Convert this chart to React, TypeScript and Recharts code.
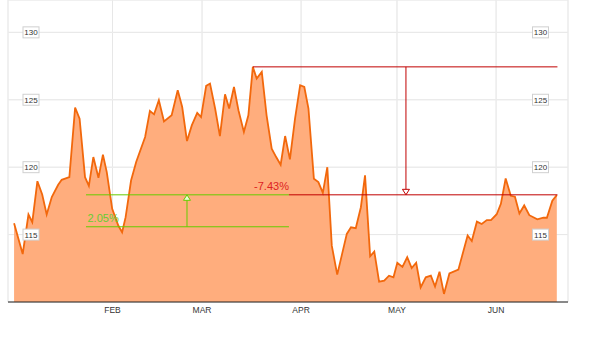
import React from 'react';
import { ComposedChart, Area, XAxis, YAxis, CartesianGrid, ReferenceLine } from 'recharts';

// day of year (0 = Jan 1)
const days = [
  0.2, 2.9, 4.7, 5.9, 7.5, 9.0, 10.4, 12.0, 14.0, 15.1,
  17.5, 19.3, 20.7, 22.4, 23.6, 25.0, 26.6, 28.0, 29.2, 30.9,
  32.8, 34.0, 35.1, 36.8, 38.4, 41.2, 42.7, 44.0, 45.5, 47.1,
  49.5, 51.4, 52.8, 54.3, 55.8, 57.5, 58.7, 60.3, 61.5, 63.1,
  64.6, 66.2, 67.5, 69.0, 70.4, 72.1, 73.5, 74.9, 76.1, 77.7,
  79.2, 80.8, 82.2, 83.6, 85.0, 86.5, 88.1, 89.7, 91.0, 92.3,
  94.0, 95.4, 96.8, 98.2, 99.6, 101.3, 102.7, 104.3, 105.6, 107.1,
  108.7, 110.0, 111.6, 112.9, 114.4, 116.0, 117.5, 118.9, 120.1, 121.7,
  123.2, 124.6, 126.0, 127.4, 129.0, 130.6, 131.9, 133.3, 134.7, 136.4,
  139.2, 142.1, 143.4, 145.0, 146.5, 148.1, 149.4, 151.2, 152.5, 154.0,
  155.6, 156.9, 158.3, 159.8, 161.4, 163.9, 165.8, 166.9, 168.6, 170.0,
];

const prices = [
  115.84, 113.56, 116.49, 115.92, 118.96, 117.97, 116.49, 117.78, 118.69, 119.06,
  119.26, 124.42, 123.6, 119.26, 118.62, 120.75, 119.21, 120.93, 119.63, 116.91,
  115.67, 115.17, 116.29, 119.01, 120.38, 122.24, 124.17, 123.92, 124.96, 123.4,
  123.85, 125.71, 124.46, 121.94, 123.1, 124.03, 123.72, 126.03, 126.2, 124.35,
  122.31, 125.41, 124.35, 125.95, 124.22, 122.61, 123.85, 127.44, 126.57, 127.07,
  123.85, 121.37, 120.75, 120.18, 122.31, 120.58, 123.6, 126.08, 125.95, 124.35,
  119.14, 118.89, 118.1, 120.0, 114.18, 112.03, 113.44, 115.05, 115.54, 115.47,
  117.03, 119.39, 113.39, 113.74, 111.51, 111.58, 111.95, 111.83, 112.91, 112.6,
  113.32, 112.52, 112.91, 111.08, 111.83, 111.95, 111.15, 112.24, 110.6, 112.12,
  112.4, 114.93, 114.52, 115.96, 115.79, 116.08, 116.08, 116.51, 117.28, 119.16,
  117.88, 117.81, 116.56, 117.16, 116.44, 116.13, 116.25, 116.25, 117.52, 117.93,
];

const monthTicks = [31, 59, 90, 120, 151];
const monthLabels = ['FEB', 'MAR', 'APR', 'MAY', 'JUN'];
const priceTicks = [115, 120, 125, 130];

// gain annotation
const gainBase = 115.58;
const gainTop = 117.95;
const gainStart = 22.7;
const gainEnd = 86.2;
const gainArrowDay = 54.3;
const gainText = '2.05%';

// drop annotation
const dropTop = 127.44;
const dropBottom = 117.95;
const dropStart = 74.9;
const dropEnd = 170.2;
const dropArrowDay = 122.8;
const dropText = '-7.43%';

const data = days.map((d, i) => ({ d, p: prices[i] }));

const FONT = 'Liberation Sans, Arial, sans-serif';

const makeTick = (side: 'left' | 'right') => (props: any) => {
  const { x, y, payload } = props;
  const cx = side === 'left' ? x + 23 : x - 27.5;
  return (
    <g>
      <rect x={cx - 8} y={y - 5.5} width={16} height={11} fill="#fff" stroke="#d0d0d0" strokeWidth={1} />
      <text x={cx} y={y + 3} textAnchor="middle" fontSize={8} fill="#333" fontFamily={FONT}>
        {payload.value}
      </text>
    </g>
  );
};

const makeArrow = (color: string, fill: string) => (props: any) => {
  const { x1, y1, x2, y2 } = props;
  const dir = y2 > y1 ? 1 : -1;
  const h = 5.5;
  const w = 3.5;
  return (
    <g>
      <line x1={x1} y1={y1} x2={x2} y2={y2} stroke={color} strokeWidth={1} />
      <polygon
        points={`${x2},${y2} ${x2 - w},${y2 - dir * h} ${x2 + w},${y2 - dir * h}`}
        fill={fill}
        stroke={color}
        strokeWidth={1}
      />
    </g>
  );
};

const gainLabel = (props: any) => {
  const vb = props.viewBox || {};
  return (
    <text x={vb.x + 1.5} y={vb.y - 4.5} fill="#66cc33" fontSize={11} fontFamily={FONT}>
      {gainText}
    </text>
  );
};

const dropLabel = (props: any) => {
  const vb = props.viewBox || {};
  return (
    <text x={vb.x} y={vb.y - 4.5} fill="#dd2222" fontSize={11} fontFamily={FONT} textAnchor="end">
      {dropText}
    </text>
  );
};

export default function App() {
  return (
    <div style={{ position: 'absolute', left: 0, top: 0 }}>
      <ComposedChart
        width={602}
        height={360}
        data={data}
        margin={{ top: 0, right: 32, bottom: 28, left: 6 }}
      >
        <CartesianGrid stroke="#dddddd" strokeWidth={1} />
        <XAxis
          dataKey="d"
          type="number"
          domain={[-1.7, 173.5]}
          allowDataOverflow
          ticks={monthTicks}
          tickFormatter={(v: number) => monthLabels[monthTicks.indexOf(v)]}
          axisLine={{ stroke: '#222', strokeWidth: 1.2 }}
          tickLine={false}
          tickSize={0}
          tickMargin={5}
          height={30}
          tick={{ fontSize: 8.5, fill: '#333', fontFamily: FONT }}
        />
        <Area
          type="linear"
          dataKey="p"
          stroke="#f2680c"
          strokeWidth={1.8}
          fill="#ffad7d"
          fillOpacity={1}
          isAnimationActive={false}
          dot={false}
          activeDot={false}
        />
        <CartesianGrid stroke="#ffffff" strokeOpacity={0.3} strokeWidth={1} fill="none" />
        <ReferenceLine
          segment={[{ x: gainStart, y: gainBase }, { x: gainEnd, y: gainBase }]}
          stroke="#66cc00"
          strokeWidth={1}
          label={gainLabel}
          ifOverflow="visible"
        />
        <ReferenceLine
          segment={[{ x: gainStart, y: gainTop }, { x: gainEnd, y: gainTop }]}
          stroke="#66cc00"
          strokeWidth={1}
          ifOverflow="visible"
        />
        <ReferenceLine
          segment={[{ x: gainArrowDay, y: gainBase }, { x: gainArrowDay, y: gainTop }]}
          shape={makeArrow('#66cc00', '#eaffd6')}
          ifOverflow="visible"
        />
        <ReferenceLine
          segment={[{ x: dropStart, y: dropTop }, { x: dropEnd, y: dropTop }]}
          stroke="#c00000"
          strokeWidth={1}
          ifOverflow="visible"
        />
        <ReferenceLine
          segment={[{ x: gainEnd, y: dropBottom }, { x: dropEnd, y: dropBottom }]}
          stroke="#c00000"
          strokeWidth={1}
          label={dropLabel}
          ifOverflow="visible"
        />
        <ReferenceLine
          segment={[{ x: dropArrowDay, y: dropTop }, { x: dropArrowDay, y: dropBottom }]}
          shape={makeArrow('#c00000', '#ffffff')}
          ifOverflow="visible"
        />
        <YAxis
          domain={[110, 132.4]}
          allowDataOverflow
          ticks={priceTicks}
          interval={0}
          width={2}
          axisLine={false}
          tickLine={false}
          tickSize={0}
          tickMargin={0}
          tick={makeTick('left')}
        />
        <YAxis
          yAxisId="r"
          orientation="right"
          domain={[110, 132.4]}
          allowDataOverflow
          ticks={priceTicks}
          interval={0}
          width={2}
          axisLine={false}
          tickLine={false}
          tickSize={0}
          tickMargin={0}
          tick={makeTick('right')}
        />
      </ComposedChart>
    </div>
  );
}
